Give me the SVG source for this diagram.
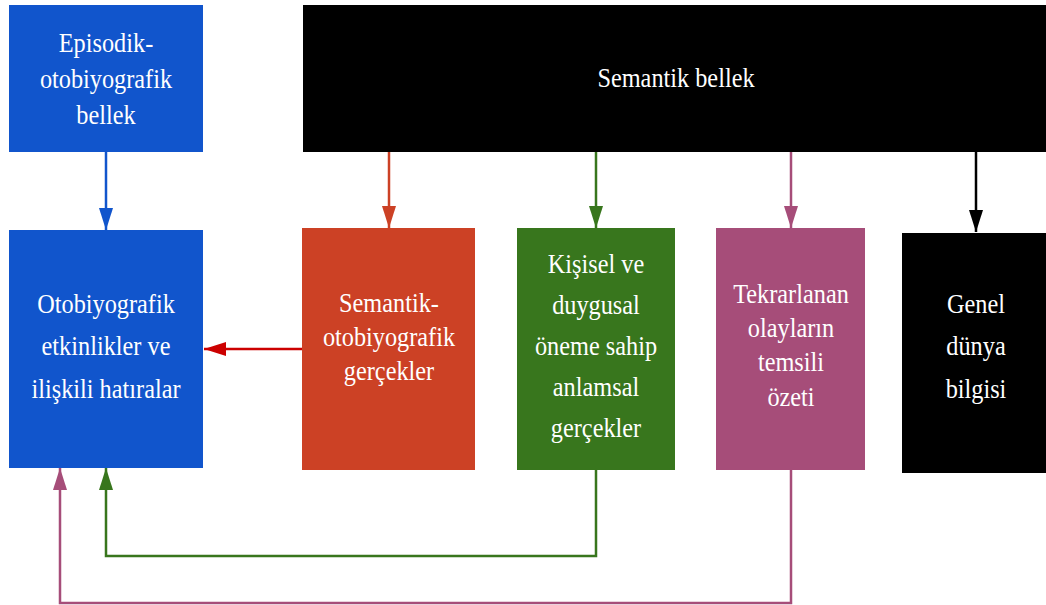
<svg xmlns="http://www.w3.org/2000/svg" width="1046" height="605" viewBox="0 0 1046 605">
  <style>
    .lbl { font-family: "Liberation Serif", "Times New Roman", serif; font-size: 27px; fill: #ffffff; text-anchor: middle; }
    .wire { fill: none; stroke-width: 2.5; }
  </style>
  <defs>
    <marker id="ah-blue" markerUnits="userSpaceOnUse" markerWidth="22" markerHeight="14" refX="22" refY="7" orient="auto"><path d="M0,0 L22,7 L0,14 z" fill="#1155cc"/></marker>
    <marker id="ah-orange" markerUnits="userSpaceOnUse" markerWidth="22" markerHeight="14" refX="22" refY="7" orient="auto"><path d="M0,0 L22,7 L0,14 z" fill="#cc4125"/></marker>
    <marker id="ah-red" markerUnits="userSpaceOnUse" markerWidth="22" markerHeight="14" refX="22" refY="7" orient="auto"><path d="M0,0 L22,7 L0,14 z" fill="#cc0000"/></marker>
    <marker id="ah-green" markerUnits="userSpaceOnUse" markerWidth="22" markerHeight="14" refX="22" refY="7" orient="auto"><path d="M0,0 L22,7 L0,14 z" fill="#38761d"/></marker>
    <marker id="ah-pink" markerUnits="userSpaceOnUse" markerWidth="22" markerHeight="14" refX="22" refY="7" orient="auto"><path d="M0,0 L22,7 L0,14 z" fill="#a64d79"/></marker>
    <marker id="ah-black" markerUnits="userSpaceOnUse" markerWidth="22" markerHeight="14" refX="22" refY="7" orient="auto"><path d="M0,0 L22,7 L0,14 z" fill="#000000"/></marker>
  </defs>

  <rect width="1046" height="605" fill="#ffffff"/>

  <!-- connectors -->
  <g id="connectors">
    <line class="wire" x1="106" y1="152" x2="106" y2="230" stroke="#1155cc" marker-end="url(#ah-blue)"/>
    <line class="wire" x1="389" y1="152" x2="389" y2="228" stroke="#cc4125" marker-end="url(#ah-orange)"/>
    <line class="wire" x1="596" y1="152" x2="596" y2="228" stroke="#38761d" marker-end="url(#ah-green)"/>
    <line class="wire" x1="791" y1="152" x2="791" y2="228" stroke="#a64d79" marker-end="url(#ah-pink)"/>
    <line class="wire" x1="976" y1="152" x2="976" y2="232" stroke="#000000" marker-end="url(#ah-black)"/>
    <line class="wire" x1="302" y1="349" x2="204" y2="349" stroke="#cc0000" stroke-width="3" marker-end="url(#ah-red)"/>
    <polyline class="wire" points="596,470 596,556 106,556 106,468" stroke="#38761d" stroke-width="3" marker-end="url(#ah-green)"/>
    <polyline class="wire" points="791,470 791,603 60,603 60,468" stroke="#a64d79" stroke-width="3" marker-end="url(#ah-pink)"/>
  </g>

  <g id="episodik">
    <rect x="9" y="5" width="194" height="147" fill="#1155cc"/>
    <text class="lbl" transform="translate(106,52) scale(0.9,1)"><tspan x="0">Episodik-</tspan><tspan x="0" dy="36">otobiyografik</tspan><tspan x="0" dy="36">bellek</tspan></text>
  </g>

  <g id="semantik-bellek">
    <rect x="303" y="5" width="743" height="147" fill="#000000"/>
    <text class="lbl" transform="translate(676,87) scale(0.9,1)">Semantik bellek</text>
  </g>

  <g id="otobiyografik-etkinlikler">
    <rect x="9" y="230" width="194" height="238" fill="#1155cc"/>
    <text class="lbl" transform="translate(106,313) scale(0.9,1)"><tspan x="0">Otobiyografik</tspan><tspan x="0" dy="42">etkinlikler ve</tspan><tspan x="0" dy="43">ilişkili hatıralar</tspan></text>
  </g>

  <g id="semantik-otobiyografik">
    <rect x="302" y="228" width="173" height="242" fill="#cc4125"/>
    <text class="lbl" transform="translate(389,312) scale(0.9,1)"><tspan x="0">Semantik-</tspan><tspan x="0" dy="34">otobiyografik</tspan><tspan x="0" dy="34">gerçekler</tspan></text>
  </g>

  <g id="kisisel-anlamsal">
    <rect x="517" y="228" width="158" height="242" fill="#38761d"/>
    <text class="lbl" transform="translate(596,273) scale(0.9,1)"><tspan x="0">Kişisel ve</tspan><tspan x="0" dy="41">duygusal</tspan><tspan x="0" dy="41">öneme sahip</tspan><tspan x="0" dy="41">anlamsal</tspan><tspan x="0" dy="41">gerçekler</tspan></text>
  </g>

  <g id="tekrarlanan-olaylar">
    <rect x="716" y="228" width="149" height="242" fill="#a64d79"/>
    <text class="lbl" transform="translate(791,303) scale(0.9,1)"><tspan x="0">Tekrarlanan</tspan><tspan x="0" dy="34">olayların</tspan><tspan x="0" dy="34">temsili</tspan><tspan x="0" dy="35">özeti</tspan></text>
  </g>

  <g id="genel-dunya">
    <rect x="902" y="233" width="144" height="240" fill="#000000"/>
    <text class="lbl" transform="translate(976,313) scale(0.9,1)"><tspan x="0">Genel</tspan><tspan x="0" dy="42">dünya</tspan><tspan x="0" dy="43">bilgisi</tspan></text>
  </g>
</svg>
